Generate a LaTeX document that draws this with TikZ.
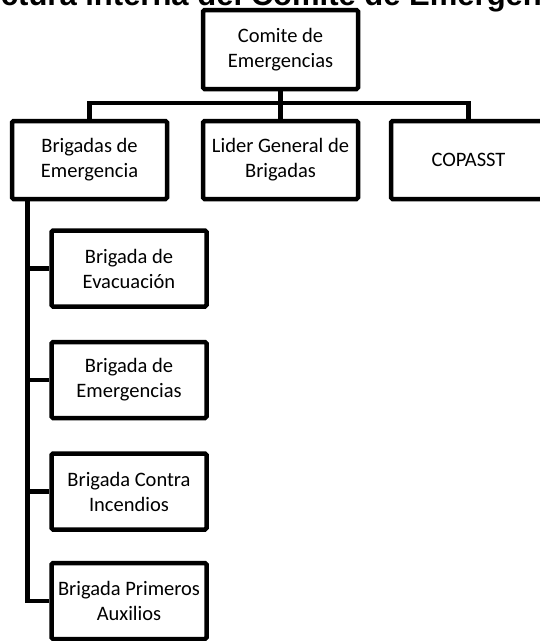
\documentclass[tikz,border=0pt]{standalone}
\usepackage{fontspec}
\setmainfont{Carlito}
\newfontfamily\titlefont{Liberation Sans}
\begin{document}
\begin{tikzpicture}[x=1pt,y=-1pt,
  box/.style={draw, line width=4.5pt, rounded corners=1.5pt, minimum width=155pt, minimum height=78pt, align=center, inner sep=0pt, font=\fontsize{20.5}{25}\selectfont},
  cbox/.style={box, minimum height=76pt},
  conn/.style={line width=4.5pt}]
\useasboundingbox (0,0) rectangle (540,641);
\clip (0,0) rectangle (540,641);
\node[anchor=base, font=\titlefont\bfseries\fontsize{31}{31}\selectfont] (title) at (262,5) {Estructura interna del Comite de Emergencias};
\node[box, minimum height=79pt] (top) at (280.5,49.5) {Comite de\\Emergencias};
\node[box] (b1) at (89.5,160) {Brigadas de\\Emergencia};
\node[box] (b2) at (280.5,160) {Lider General de\\Brigadas};
\node[box] (b3) at (468.5,160) {COPASST};
\node[cbox] (c1) at (129,268.5) {Brigada de\\Evacuación};
\node[cbox] (c2) at (129,380) {Brigada de\\Emergencias};
\node[cbox] (c3) at (129,491.5) {Brigada Contra\\Incendios};
\node[cbox] (c4) at (129,601) {Brigada Primeros\\Auxilios};
\coordinate (bar) at (0,103);
\coordinate (vl) at (27.5,0);
\draw[conn] (top.south) -- (b2.north);
\draw[conn] (b1.north) -- (b1.north |- bar) -- (b3.north |- bar) -- (b3.north);
\draw[conn] (vl |- b1.south) |- (c4.west);
\draw[conn] (vl |- c1.west) -- (c1.west);
\draw[conn] (vl |- c2.west) -- (c2.west);
\draw[conn] (vl |- c3.west) -- (c3.west);
\end{tikzpicture}
\end{document}
